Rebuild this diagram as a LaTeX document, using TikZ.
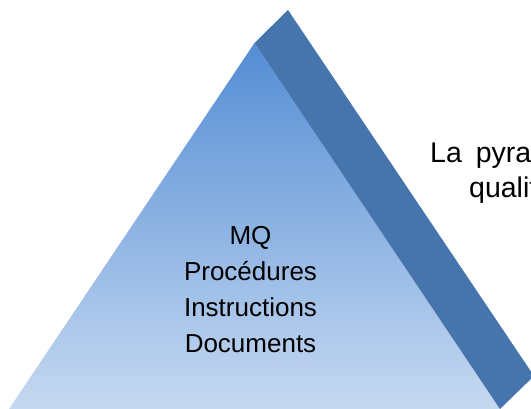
\documentclass[tikz,border=0pt]{standalone}
\usepackage{fontspec}
\setmainfont{Liberation Sans}
\definecolor{topblue}{RGB}{84,141,212}
\definecolor{botblue}{RGB}{198,217,241}
\definecolor{sideblue}{RGB}{70,116,172}
\tikzset{
  lbl/.style={anchor=base, inner sep=0pt, font=\fontsize{26}{36}\selectfont, text=black},
  rlbl/.style={anchor=base west, inner sep=0pt, font=\fontsize{28.5}{36}\selectfont, text=black},
}
\begin{document}
\begin{tikzpicture}[x=1pt,y=1pt]
\useasboundingbox (0,0) rectangle (531,409);
\clip (0,0) rectangle (531,409);
% right-side text (partly hidden by the page edge, as in the reference)
\node[rlbl] (t1) at (430,246) {La\hspace{14pt}pyramide};
\node[rlbl] (t2) at (469,211) {qualité};
% front face
\coordinate (apex) at (254.5,366);
\coordinate (bl) at (9,0);
\coordinate (br) at (500,0);
\shade[top color=topblue, bottom color=botblue] (apex) -- (br) -- (bl) -- cycle;
% side face
\coordinate (stop) at (288,399);
\coordinate (sbot) at (534,33);
\fill[sideblue] (apex) -- (stop) -- (sbot) -- (br) -- cycle;
% labels
\node[lbl] (mq) at (250.5,164) {MQ};
\node[lbl] (pr) at (250.5,128) {Procédures};
\node[lbl] (in) at (250.5,92) {Instructions};
\node[lbl] (do) at (250.5,56) {Documents};
\end{tikzpicture}
\end{document}
